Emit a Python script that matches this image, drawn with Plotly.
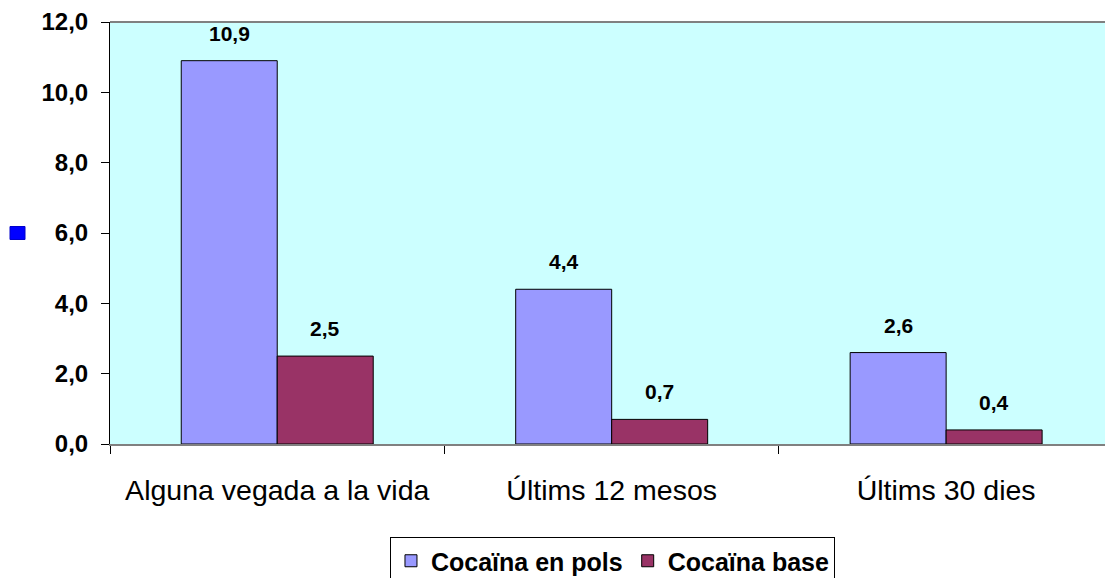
import plotly.graph_objects as go

categories = ["Alguna vegada a la vida", "Últims 12 mesos", "Últims 30 dies"]
pols = [10.9, 4.4, 2.6]
base = [2.5, 0.7, 0.4]
y_ticks = [0, 2, 4, 6, 8, 10, 12]

FONT = "Liberation Sans, Arial, sans-serif"

fig = go.Figure()

fig.add_trace(go.Bar(
    x=categories, y=pols, name="Cocaïna en pols",
    marker=dict(color="#9999ff", line=dict(color="black", width=1)),
))
fig.add_trace(go.Bar(
    x=categories, y=base, name="Cocaïna base",
    marker=dict(color="#993366", line=dict(color="black", width=1)),
))

# data labels above the bars
for vals, shift in [(pols, -48), (base, 48)]:
    for cat, v in zip(categories, vals):
        fig.add_annotation(
            x=cat, y=v, xref="x", yref="y",
            text=f"{v:.1f}".replace(".", ","),
            showarrow=False, xshift=shift, yshift=14, yanchor="bottom",
            font=dict(family=FONT, size=21, color="black", weight="bold"),
        )

# the stray blue marker left of the y axis
fig.add_shape(
    type="rect", xref="paper", yref="y",
    xsizemode="pixel", xanchor=0, x0=-100, x1=-85,
    ysizemode="pixel", yanchor=6, y0=-6.5, y1=6.5,
    fillcolor="#0000ff", line=dict(color="#0000cc", width=1),
)

# grey top border of the plot area
fig.add_shape(type="line", xref="paper", yref="paper", x0=0, x1=1, y0=1, y1=1,
              line=dict(color="#808080", width=2))

fig.update_layout(
    width=1105, height=578,
    margin=dict(l=110, r=0, t=22, b=134, autoexpand=False),
    paper_bgcolor="white", plot_bgcolor="#ccffff",
    barmode="group", bargap=0.426, bargroupgap=0,
    separators=",.",
    font=dict(family=FONT, color="black"),
    showlegend=True,
    legend=dict(
        orientation="h", x=0.505, xanchor="center",
        yref="container", y=1 - 537 / 578, yanchor="top",
        bordercolor="black", borderwidth=1, bgcolor="white",
        font=dict(family=FONT, size=25, weight="bold"),
        itemwidth=30, tracegroupgap=0,
    ),
    xaxis=dict(
        range=[-0.5, 2.475],
        tickson="boundaries", ticks="outside", ticklen=8, tickcolor="black",
        showline=True, linecolor="#808080", linewidth=2,
        tickfont=dict(family=FONT, size=28.5), ticklabelstandoff=20,
        showgrid=False,
    ),
    yaxis=dict(
        range=[0, 12], tickvals=y_ticks, tickformat=".1f",
        ticks="outside", ticklen=8, tickcolor="black",
        showline=True, linecolor="black", linewidth=1,
        tickfont=dict(family=FONT, size=24, weight="bold"),
        showgrid=False, zeroline=False, ticklabelstandoff=8,
    ),
)

fig.write_html("out.html", config={"displayModeBar": False},
               post_script="document.body.style.margin='0';")
